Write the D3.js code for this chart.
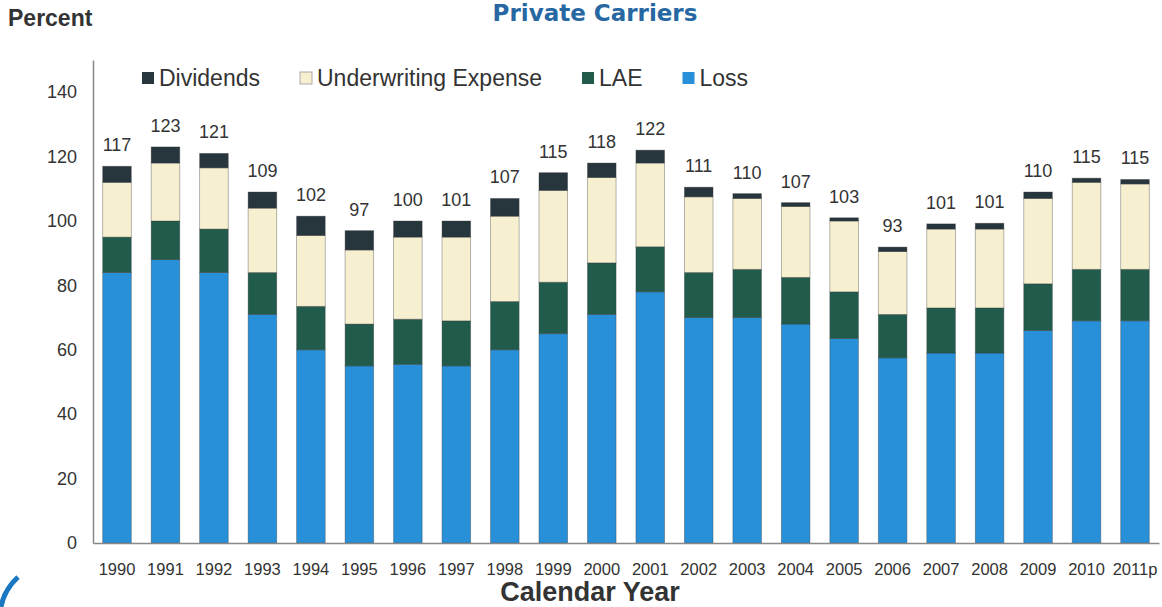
<!DOCTYPE html>
<html>
<head>
<meta charset="utf-8">
<script src="https://cdn.jsdelivr.net/npm/d3@7"></script>
<style>
  html, body { margin: 0; padding: 0; background: #ffffff; }
  svg { display: block; font-family: "Liberation Sans", Arial, sans-serif; }
</style>
</head>
<body>
<svg id="chart" width="1162" height="607"></svg>
<script>
// ---- data ----
const years = ["1990","1991","1992","1993","1994","1995","1996","1997","1998","1999","2000",
               "2001","2002","2003","2004","2005","2006","2007","2008","2009","2010","2011p"];
const loss      = [84, 88, 84, 71, 60, 55, 55.5, 55, 60, 65, 71, 78, 70, 70, 68, 63.5, 57.5, 59, 59, 66, 69, 69];
const lae       = [11, 12, 13.5, 13, 13.5, 13, 14, 14, 15, 16, 16, 14, 14, 15, 14.5, 14.5, 13.5, 14, 14, 14.5, 16, 16];
const underwriting = [17, 18, 19, 20, 22, 23, 25.5, 26, 26.5, 28.5, 26.5, 26, 23.5, 22, 22, 22, 19.5, 24.5, 24.5, 26.5, 27, 26.5];
const dividends = [5, 5, 4.5, 5, 6, 6, 5, 5, 5.5, 5.5, 4.5, 4, 3, 1.5, 1.2, 1, 1.4, 1.6, 1.8, 2, 1.3, 1.4];
const totals    = [117, 123, 121, 109, 102, 97, 100, 101, 107, 115, 118, 122, 111, 110, 107, 103, 93, 101, 101, 110, 115, 115];
const yTicks    = [0, 20, 40, 60, 80, 100, 120, 140];

const seriesKeys   = ["loss", "lae", "underwriting", "dividends"];
const seriesColors = { loss: "#2790d8", lae: "#215b4c", underwriting: "#f6efd0", dividends: "#27353d" };
const legendItems  = [
  { key: "dividends", label: "Dividends" },
  { key: "underwriting", label: "Underwriting Expense" },
  { key: "lae", label: "LAE" },
  { key: "loss", label: "Loss" }
];

const table = years.map((y, i) => ({
  year: y, loss: loss[i], lae: lae[i], underwriting: underwriting[i], dividends: dividends[i], total: totals[i]
}));

// ---- layout ----
const svg = d3.select("#chart");
const x0 = 93, x1 = 1159, yBottom = 543, yTop = 60;

const x = d3.scaleBand().domain(years).range([x0, x1]).paddingInner(0.41).paddingOuter(0.2);
const y = d3.scaleLinear().domain([0, 150]).range([yBottom, yTop]);

const stacked = d3.stack().keys(seriesKeys)(table);

// bars
const gBars = svg.append("g");
stacked.forEach(layer => {
  gBars.append("g")
    .selectAll("rect")
    .data(layer)
    .join("rect")
    .attr("x", d => x(d.data.year))
    .attr("width", x.bandwidth())
    .attr("y", d => y(d[1]))
    .attr("height", d => y(d[0]) - y(d[1]))
    .attr("fill", seriesColors[layer.key])
    .attr("stroke", "#3a3a3a")
    .attr("stroke-opacity", 0.45)
    .attr("stroke-width", 0.8);
});

// value labels
const topLayer = stacked[stacked.length - 1];
svg.append("g")
  .selectAll("text")
  .data(topLayer)
  .join("text")
  .attr("x", d => x(d.data.year) + x.bandwidth() / 2)
  .attr("y", d => y(d[1]) - 15)
  .attr("text-anchor", "middle")
  .attr("font-size", 18)
  .attr("fill", "#333")
  .text(d => d.data.total);

// y axis
const yAxis = svg.append("g")
  .attr("transform", `translate(${x0},0)`)
  .call(d3.axisLeft(y).tickValues(yTicks).tickSizeInner(0).tickSizeOuter(0).tickPadding(16));
yAxis.select(".domain").attr("stroke", "#888").attr("stroke-width", 1.5);
yAxis.selectAll("text").attr("font-size", 18).attr("fill", "#333")
  .attr("font-family", "'Liberation Sans', Arial, sans-serif");

// x axis
const xAxis = svg.append("g")
  .attr("transform", `translate(0,${yBottom})`)
  .call(d3.axisBottom(x).tickSizeInner(0).tickSizeOuter(0).tickPadding(20));
xAxis.select(".domain").attr("stroke", "#888").attr("stroke-width", 1.5);
xAxis.selectAll("text").attr("font-size", 16.5).attr("fill", "#333")
  .attr("font-family", "'Liberation Sans', Arial, sans-serif");

// titles
svg.append("text")
  .attr("x", 595).attr("y", 21)
  .attr("text-anchor", "middle")
  .attr("font-family", "'DejaVu Sans', Verdana, sans-serif")
  .attr("font-weight", "bold")
  .attr("font-size", 23)
  .attr("fill", "#2767a2")
  .text("Private Carriers");

svg.append("text")
  .attr("x", 8).attr("y", 26)
  .attr("font-weight", "bold")
  .attr("font-size", 23)
  .attr("fill", "#333")
  .text("Percent");

svg.append("text")
  .attr("x", 590).attr("y", 601)
  .attr("text-anchor", "middle")
  .attr("font-weight", "bold")
  .attr("font-size", 27)
  .attr("fill", "#333")
  .text("Calendar Year");

// legend
const legend = svg.append("g");
let lx = 142;
legendItems.forEach(item => {
  legend.append("rect")
    .attr("x", lx).attr("y", 72).attr("width", 12).attr("height", 12)
    .attr("fill", seriesColors[item.key])
    .attr("stroke", item.key === "underwriting" ? "#aaa" : "none");
  const t = legend.append("text")
    .attr("x", lx + 17).attr("y", 86)
    .attr("font-size", 23)
    .attr("fill", "#333")
    .text(item.label);
  lx = lx + 17 + t.node().getComputedTextLength() + 40;
});

// decorative swoosh bottom-left
svg.append("path")
  .attr("d", "M 1 607 Q 4 590 18 577")
  .attr("fill", "none")
  .attr("stroke", "#1a78c2")
  .attr("stroke-width", 5);
</script>
</body>
</html>
